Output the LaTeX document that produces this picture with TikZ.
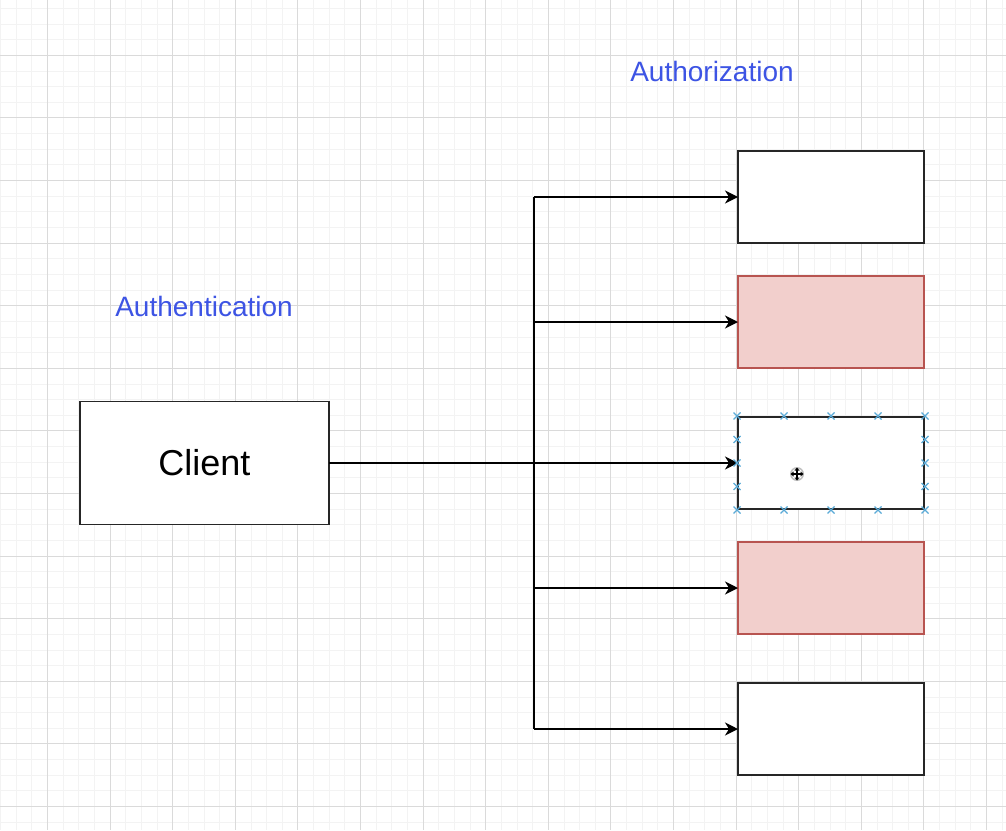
\documentclass[tikz,border=0pt]{standalone}
\usepackage{fontspec}
\setmainfont{Liberation Sans}
\usetikzlibrary{arrows.meta}
\definecolor{minorgrid}{RGB}{243,243,243}
\definecolor{majorgrid}{RGB}{218,218,218}
\definecolor{lblue}{RGB}{61,84,228}
\definecolor{redfill}{RGB}{242,207,204}
\definecolor{redline}{RGB}{184,84,80}
\definecolor{selblue}{RGB}{90,170,215}
\begin{document}
\begin{tikzpicture}[x=1pt,y=-1pt,
  box/.style={draw=black!85, line width=1.8pt, fill=white, minimum width=186pt, minimum height=92pt, inner sep=0pt, outer sep=0pt},
  redbox/.style={box, draw=redline, fill=redfill},
  conn/.style={line width=1.7pt, black},
  arr/.style={conn, -{Stealth[length=13pt,width=13pt,inset=4pt]}},
  title/.style={text=lblue, font=\fontsize{28}{32}\selectfont},
  xmark/.style={draw=selblue, line width=1.3pt}]
\useasboundingbox (0,0) rectangle (1006,830);
\fill[white] (0,0) rectangle (1006,830);
% grid
\foreach \i in {0,...,64} {\draw[minorgrid, line width=0.9pt] ({0.55+15.65*\i},0) -- ({0.55+15.65*\i},830);}
\foreach \i in {0,...,52} {\draw[minorgrid, line width=0.9pt] (0,{8.35+15.65*\i}) -- (1006,{8.35+15.65*\i});}
\foreach \i in {0,...,15} {\draw[majorgrid, line width=1pt] ({47.5+62.6*\i},0) -- ({47.5+62.6*\i},830);}
\foreach \i in {0,...,12} {\draw[majorgrid, line width=1pt] (0,{55.3+62.6*\i}) -- (1006,{55.3+62.6*\i});}
% labels
\node[title] (authn) at (204,306) {Authentication};
\node[title] (authz) at (712,71) {Authorization};
% client
\node[box, minimum width=249pt, minimum height=123pt] (client) at (204.5,463) {};
\node[font=\fontsize{36}{40}\selectfont] (clientlbl) at (client.center) {Client};
% right boxes
\node[box] (b1) at (831,197) {};
\node[redbox] (b2) at (831,322) {};
\node[box] (b3) at (831,463) {};
\node[redbox] (b4) at (831,588) {};
\node[box] (b5) at (831,729) {};
% connectors
\coordinate (trunk) at (534,463);
\draw[conn] (b1.west -| trunk) -- (b5.west -| trunk);
\draw[arr] (client.east) -- (b3.west);
\draw[arr] (b1.west -| trunk) -- (b1.west);
\draw[arr] (b2.west -| trunk) -- (b2.west);
\draw[arr] (b4.west -| trunk) -- (b4.west);
\draw[arr] (b5.west -| trunk) -- (b5.west);
% selection markers on b3
\foreach \px in {737,784,831,878,925} {
  \draw[xmark] (\px-3.5,416-3.5) -- (\px+3.5,416+3.5) (\px-3.5,416+3.5) -- (\px+3.5,416-3.5);
  \draw[xmark] (\px-3.5,510-3.5) -- (\px+3.5,510+3.5) (\px-3.5,510+3.5) -- (\px+3.5,510-3.5);
}
\foreach \py in {439.5,463,486.5} {
  \draw[xmark] (737-3.5,\py-3.5) -- (737+3.5,\py+3.5) (737-3.5,\py+3.5) -- (737+3.5,\py-3.5);
  \draw[xmark] (925-3.5,\py-3.5) -- (925+3.5,\py+3.5) (925-3.5,\py+3.5) -- (925+3.5,\py-3.5);
}
% move cursor
\fill[black!25] (797,474) circle (7pt);
\fill[white] (797,474) circle (5.5pt);
\draw[black, line width=1.3pt] (792,474) -- (802,474) (797,469) -- (797,479);
\fill[black] (790.5,474) -- (793.5,471.5) -- (793.5,476.5) -- cycle;
\fill[black] (803.5,474) -- (800.5,471.5) -- (800.5,476.5) -- cycle;
\fill[black] (797,467.5) -- (794.5,470.5) -- (799.5,470.5) -- cycle;
\fill[black] (797,480.5) -- (794.5,477.5) -- (799.5,477.5) -- cycle;
\end{tikzpicture}
\end{document}
